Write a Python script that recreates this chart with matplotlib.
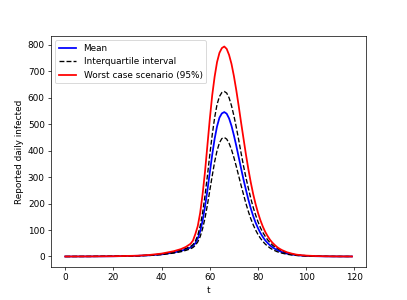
import numpy as np
import matplotlib
matplotlib.use("Agg")
import matplotlib.pyplot as plt

# time grid (days)
t = [0, 10, 20, 25, 30, 35, 40, 45, 48, 50, 52, 53, 54, 55, 56, 57, 58, 59,
     60, 61, 62, 63, 64, 65, 66, 67, 68, 69, 70, 71, 72, 73, 74, 75, 76, 77,
     78, 79, 80, 81, 82, 83, 84, 85, 86, 87, 88, 89, 90, 92, 94, 96, 98, 100,
     104, 108, 112, 116, 119]

mean = [0, 0.3, 0.9, 1.6, 2.7, 4.5, 8, 15, 21, 27, 34, 40, 50, 68, 95, 135,
        188, 250, 318, 385, 445, 492, 525, 541, 546, 540, 522, 494, 458, 418,
        375, 332, 290, 252, 215, 182, 153, 128, 107, 89, 74, 61, 51, 42, 35,
        29, 24, 20, 16.5, 11, 7.5, 5, 3.4, 2.3, 1.1, 0.5, 0.25, 0.12, 0.1]

q_upper = [0, 0.3, 1, 1.8, 3, 5, 9, 17, 24, 30, 38, 45, 58, 80, 115, 165,
           230, 305, 385, 460, 525, 575, 605, 620, 624, 618, 600, 570, 532,
           488, 440, 390, 342, 298, 258, 220, 186, 157, 131, 109, 91, 76,
           63, 52, 43, 36, 30, 25, 20.5, 14, 9.5, 6.5, 4.4, 3, 1.4, 0.7, 0.3,
           0.15, 0.1]

q_lower = [0, 0.2, 0.8, 1.4, 2.4, 4, 7, 13, 18, 23, 29, 34, 42, 55, 75, 105,
           145, 195, 250, 305, 358, 400, 430, 446, 450, 444, 428, 404, 374,
           340, 304, 268, 234, 200, 170, 143, 120, 100, 83, 69, 57, 47, 39,
           32, 26.5, 22, 18, 15, 12.5, 8.5, 5.8, 4, 2.7, 1.8, 0.9, 0.4, 0.2,
           0.1, 0.1]

worst = [0, 0.3, 1, 2, 3, 6, 11, 20, 28, 36, 48, 60, 85, 115, 165, 235, 320,
         420, 520, 610, 680, 735, 770, 788, 794, 785, 762, 728, 682, 628, 568,
         505, 445, 385, 330, 280, 236, 198, 165, 137, 113, 93, 77, 63, 52,
         43, 35, 29, 24, 16, 11, 7, 5, 3.5, 1.7, 0.8, 0.4, 0.2, 0.1]

fig, ax = plt.subplots(figsize=(6.4, 4.717))
plt.plot(t, mean, 'b', linewidth=2, label="Mean")
plt.plot(t, q_upper, 'k--', linewidth=1.5, label="Interquartile interval")
plt.plot(t, q_lower, 'k--', linewidth=1.5)
plt.plot(t, worst, 'r', linewidth=2, label="Worst case scenario (95%)")
plt.legend(loc=2)
plt.xlabel("t")
plt.ylabel("Reported daily infected")

fig.savefig("out.png", dpi=63.6)
